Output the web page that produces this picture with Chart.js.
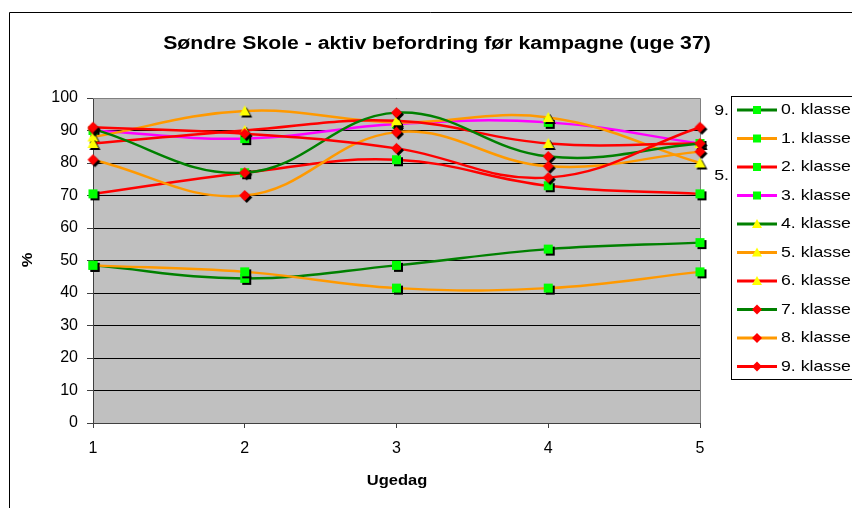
<!DOCTYPE html>
<html>
<head>
<meta charset="utf-8">
<script src="https://cdn.jsdelivr.net/npm/chart.js@4.4.1/dist/chart.umd.min.js"></script>
<style>
  html, body { margin: 0; padding: 0; background: #fff; }
  #wrap { width: 852px; height: 508px; position: relative; }
</style>
</head>
<body>
<div id="wrap"><canvas id="chart" width="852" height="508"></canvas></div>
<script>
// Ugedag 1-5, andel aktiv befordring i %
const days = ['1', '2', '3', '4', '5'];
const klasse0 = [48.5, 44.5, 48.5, 53.5, 55.5];
const klasse1 = [48.5, 46.5, 41.5, 41.5, 46.5];
const klasse2 = [70.5, 77, 81, 73, 70.5];
const klasse3 = [90, 87.5, 92, 92.5, 86];
const klasse4 = [null, null, null, null, null];
const klasse5 = [88, 96, 92.5, 94, 80];
const klasse6 = [86, 90, 93, 86, 86];
const klasse7 = [90.5, 77, 95.5, 82, 86];
const klasse8 = [81, 70, 89.5, 79, 83.5];
const klasse9 = [91, 89, 84.5, 75.5, 91];

const seriesNames = ['0. klasse', '1. klasse', '2. klasse', '3. klasse', '4. klasse',
                     '5. klasse', '6. klasse', '7. klasse', '8. klasse', '9. klasse'];
const seriesData = [klasse0, klasse1, klasse2, klasse3, klasse4,
                    klasse5, klasse6, klasse7, klasse8, klasse9];
const sideLabels = ['9.', '5.'];

const GREEN = '#008000', ORANGE = '#FF9900', RED = '#FF0000', MAGENTA = '#FF00FF';
const seriesColor = [GREEN, ORANGE, RED, MAGENTA, GREEN, ORANGE, RED, GREEN, ORANGE, RED];
const seriesShape = ['square', 'square', 'square', 'square', 'triangle',
                     'triangle', 'triangle', 'diamond', 'diamond', 'diamond'];
const shapeFill = { square: '#00FF00', triangle: '#FFFF00', diamond: '#FF0000' };
const shapeSize = { square: 9, triangle: 11, diamond: 11 };

const FONT = '"Liberation Sans", Arial, sans-serif';

function shapePath(ctx, shape, cx, cy, size) {
  const r = size / 2;
  ctx.beginPath();
  if (shape === 'square') {
    ctx.rect(cx - r, cy - r, size, size);
  } else if (shape === 'triangle') {
    ctx.moveTo(cx, cy - r);
    ctx.lineTo(cx + r, cy + r * 0.8);
    ctx.lineTo(cx - r, cy + r * 0.8);
  } else {
    ctx.moveTo(cx, cy - r);
    ctx.lineTo(cx + r, cy);
    ctx.lineTo(cx, cy + r);
    ctx.lineTo(cx - r, cy);
  }
  ctx.closePath();
}

// marker med sort skygge, som i Excel
function makeMarker(shape) {
  const size = shapeSize[shape];
  const n = size + 6;
  const m = n / 2;
  const c = document.createElement('canvas');
  c.width = n; c.height = n;
  const ctx = c.getContext('2d');
  shapePath(ctx, shape, m + 2, m + 2, size);
  ctx.fillStyle = '#000';
  ctx.fill();
  shapePath(ctx, shape, m, m, size);
  ctx.fillStyle = shapeFill[shape];
  ctx.fill();
  return c;
}

function drawText(ctx, text, x, y, font, sx, align) {
  ctx.save();
  ctx.font = font;
  ctx.fillStyle = '#000';
  ctx.translate(x, y);
  ctx.scale(sx, 1);
  ctx.textAlign = align;
  ctx.textBaseline = 'middle';
  ctx.fillText(text, 0, 0);
  ctx.restore();
}

const datasets = seriesNames.map((name, i) => ({
  label: name,
  data: seriesData[i],
  borderColor: seriesColor[i],
  backgroundColor: shapeFill[seriesShape[i]],
  borderWidth: 2.5,
  pointStyle: makeMarker(seriesShape[i]),
  pointRadius: 5,
  tension: 0.4,
  clip: false,
  order: -i
}));

const excelLook = {
  id: 'excelLook',
  beforeDraw(chart) {
    const { ctx, chartArea: a } = chart;
    ctx.save();
    ctx.fillStyle = '#C0C0C0';
    ctx.fillRect(a.left, a.top, a.right - a.left, a.bottom - a.top);
    ctx.restore();
  },
  beforeDatasetsDraw(chart) {
    const { ctx, chartArea: a } = chart;
    ctx.save();
    ctx.strokeStyle = '#808080';
    ctx.lineWidth = 1;
    ctx.beginPath();
    ctx.moveTo(a.left, a.top + 0.5);
    ctx.lineTo(a.right + 0.5, a.top + 0.5);
    ctx.lineTo(a.right + 0.5, a.bottom);
    ctx.stroke();
    ctx.restore();
  },
  afterDraw(chart) {
    const ctx = chart.ctx;
    ctx.save();
    // ramme rundt om diagrammet
    ctx.strokeStyle = '#000';
    ctx.lineWidth = 1;
    ctx.beginPath();
    ctx.moveTo(9.5, 508);
    ctx.lineTo(9.5, 12.5);
    ctx.lineTo(852, 12.5);
    ctx.stroke();

    drawText(ctx, 'Søndre Skole - aktiv befordring før kampagne (uge 37)', 437, 44,
             'bold 18px ' + FONT, 1.18, 'center');
    drawText(ctx, 'Ugedag', 397, 481, 'bold 15px ' + FONT, 1.1, 'center');

    ctx.save();
    ctx.translate(28, 260);
    ctx.rotate(-Math.PI / 2);
    drawText(ctx, '%', 0, 0, 'bold 15px ' + FONT, 1.1, 'center');
    ctx.restore();

    drawText(ctx, sideLabels[0], 729, 111, '15px ' + FONT, 1.18, 'right');
    drawText(ctx, sideLabels[1], 729, 176, '15px ' + FONT, 1.18, 'right');

    // forklaring
    ctx.strokeStyle = '#000';
    ctx.strokeRect(731.5, 96.5, 200, 283);
    seriesNames.forEach((name, i) => {
      const y = 110 + i * 28.5;
      ctx.strokeStyle = seriesColor[i];
      ctx.lineWidth = 3;
      ctx.beginPath();
      ctx.moveTo(737, y);
      ctx.lineTo(777, y);
      ctx.stroke();
      const shape = seriesShape[i];
      shapePath(ctx, shape, 757, y, shapeSize[shape] - 1);
      ctx.fillStyle = shapeFill[shape];
      ctx.fill();
      drawText(ctx, name, 781, y, '15px ' + FONT, 1.18, 'left');
    });
    ctx.restore();
  }
};

new Chart(document.getElementById('chart'), {
  type: 'line',
  data: { labels: days, datasets: datasets },
  plugins: [excelLook],
  options: {
    responsive: false,
    animation: false,
    layout: { padding: { left: 0, top: 98, right: 152, bottom: 0 } },
    plugins: { legend: { display: false }, tooltip: { enabled: false }, title: { display: false } },
    scales: {
      x: {
        type: 'category',
        offset: false,
        grid: { drawOnChartArea: false, tickLength: 5, tickColor: '#404040' },
        border: { color: '#404040' },
        ticks: { color: '#000', font: { family: FONT, size: 16 }, padding: 11, maxRotation: 0 },
        afterFit(s) { s.height = 85; }
      },
      y: {
        min: 0,
        max: 100,
        grid: { color: '#000', tickLength: 6, tickColor: '#404040' },
        border: { color: '#404040' },
        ticks: { stepSize: 10, color: '#000', font: { family: FONT, size: 16 }, padding: 9 },
        afterFit(s) { s.width = 93; }
      }
    }
  }
});
</script>
</body>
</html>
